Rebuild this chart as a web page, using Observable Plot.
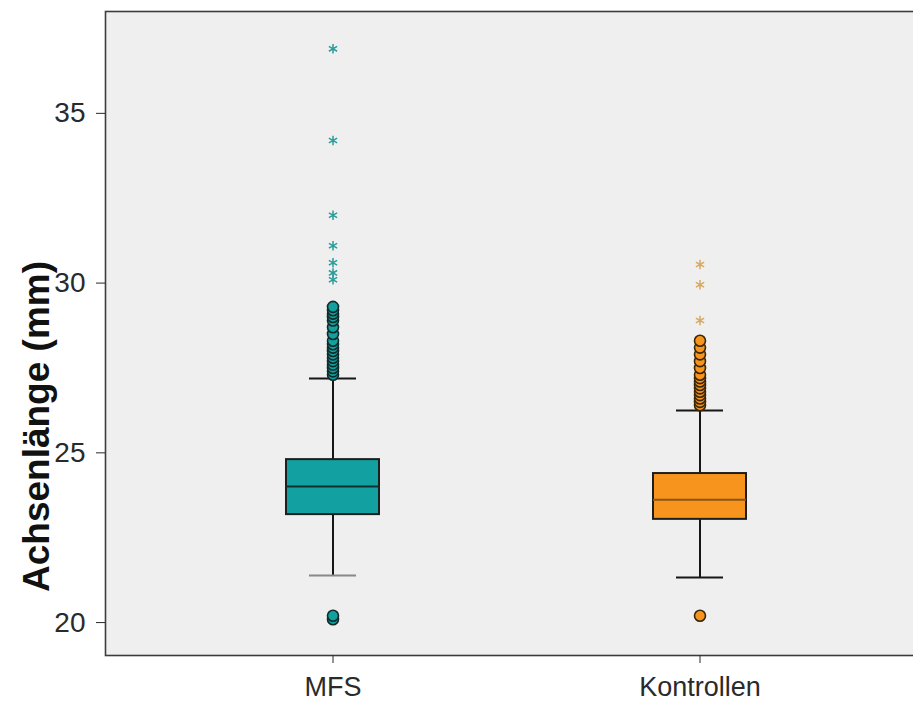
<!DOCTYPE html>
<html><head><meta charset="utf-8">
<script src="https://cdn.jsdelivr.net/npm/d3@7"></script>
<script src="https://cdn.jsdelivr.net/npm/@observablehq/plot@0.6"></script>
<style>
html,body{margin:0;padding:0;background:#fff;overflow:hidden;}
#chart{width:913px;height:702px;overflow:hidden;}
#chart svg{max-width:none !important;display:block;}
</style></head><body><div id="chart"></div>
<script>
const groups = ["MFS", "Kontrollen"];
const q1 = [23.18, 23.04];
const median = [24.01, 23.62];
const q3 = [24.80, 24.39];
const whiskerLow = [21.39, 21.33];
const whiskerHigh = [27.19, 26.25];
const mfsOutliers = [20.1, 20.2, 27.3, 27.4, 27.5, 27.6, 27.7, 27.8, 27.9, 28.0, 28.1, 28.2, 28.3, 28.5, 28.7, 28.9, 29.0, 29.1, 29.2, 29.3];
const mfsExtremes = [30.1, 30.3, 30.6, 31.1, 32.0, 34.2, 36.9];
const kontrOutliers = [20.2, 26.4, 26.5, 26.6, 26.7, 26.8, 26.9, 27.0, 27.1, 27.2, 27.3, 27.5, 27.7, 27.9, 28.1, 28.3];
const kontrExtremes = [28.9, 29.95, 30.55];
const yTicks = [20, 25, 30, 35];
const yLabel = "Achsenlänge (mm)";

const fills = ["#12a0a0", "#f7941d"];
const medianStroke = {"MFS": "#10302f", "Kontrollen": "#8a5610"};
const outlierStroke = {"MFS": "#102a2a", "Kontrollen": "#3a2608"};
const starStroke = {"MFS": "#2a9c9a", "Kontrollen": "#d8a860"};

const boxes = groups.map((g, i) => ({group: g, q1: q1[i], median: median[i], q3: q3[i], lo: whiskerLow[i], hi: whiskerHigh[i]}));
const outliers = [
  ...mfsOutliers.map(v => ({group: "MFS", value: v})),
  ...kontrOutliers.map(v => ({group: "Kontrollen", value: v}))
];
const extremes = [
  ...mfsExtremes.map(v => ({group: "MFS", value: v})),
  ...kontrExtremes.map(v => ({group: "Kontrollen", value: v}))
];

const chart = Plot.plot({
  width: 1000,
  height: 702,
  marginLeft: 105,
  marginRight: 20,
  marginTop: 11,
  marginBottom: 47,
  style: {background: "transparent", fontFamily: "'Liberation Sans', Arial, sans-serif", fontSize: "28px", color: "#2a2a2a"},
  x: {type: "band", domain: groups, range: [285.5, 745.5], paddingInner: 0.7466, paddingOuter: 0, align: 0.5, axis: null},
  y: {domain: [19.03, 38.0], axis: null},
  color: {domain: groups, range: fills},
  marks: [
    Plot.frame({fill: "#efefef", stroke: "#3c3c3c", strokeWidth: 1.6}),
    Plot.axisY({ticks: yTicks, tickSize: 9, tickPadding: 11, fontSize: 28, label: null, tickFormat: d => d}),
    Plot.axisX({tickSize: 8, tickPadding: 13, fontSize: 27, label: null}),
    Plot.text([yLabel], {frameAnchor: "left", textAnchor: "middle", dx: -68, dy: 93, rotate: -90, fontSize: 37, fontWeight: "bold", fill: "#111"}),
    Plot.ruleX(boxes, {x: "group", y1: "lo", y2: "hi", stroke: "#161616", strokeWidth: 2}),
    Plot.tickY(boxes, {x: "group", y: "hi", insetLeft: 23, insetRight: 23, stroke: "#161616", strokeWidth: 2}),
    Plot.tickY(boxes, {x: "group", y: "lo", insetLeft: 23, insetRight: 23, stroke: d => d.group === "MFS" ? "#888" : "#161616", strokeWidth: 2}),
    Plot.barY(boxes, {x: "group", y1: "q1", y2: "q3", fill: "group", stroke: "#1e1e1e", strokeWidth: 2}),
    Plot.tickY(boxes, {x: "group", y: "median", stroke: d => medianStroke[d.group], strokeWidth: 2}),
    Plot.dot(outliers, {x: "group", y: "value", r: 5.5, fill: "group", stroke: d => outlierStroke[d.group], strokeWidth: 1.6}),
    Plot.dot(extremes, {x: "group", y: "value", symbol: "asterisk", r: 4.5, stroke: d => starStroke[d.group], strokeWidth: 1.5})
  ]
});
document.getElementById("chart").appendChild(chart);
</script>
</body></html>
